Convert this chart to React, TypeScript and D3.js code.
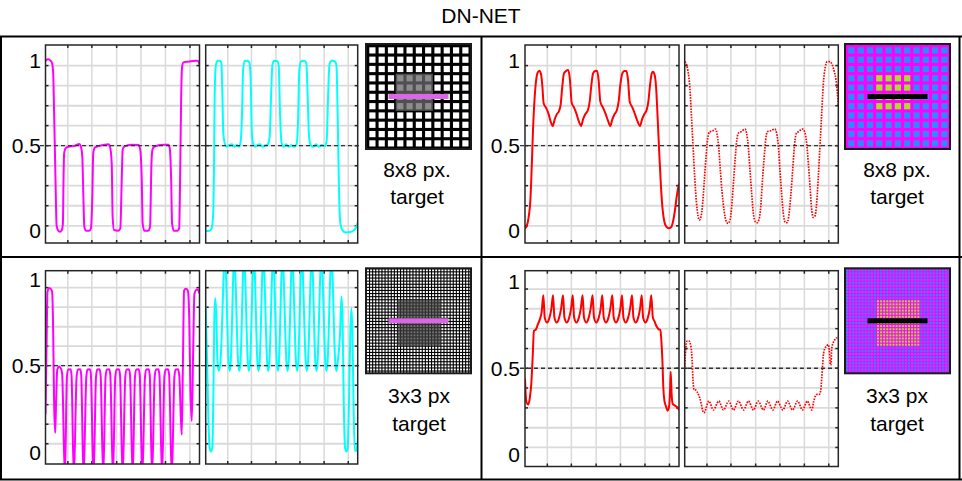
import React from 'react';
import * as d3 from 'd3';

type Pt = [number, number];

// x: percent of plot width, y: normalised intensity
const magentaTop: Pt[] = [
  [0, 1.0], [1.7, 1.008], [3.3, 1.0], [4.3, 0.985], [5.0, 0.925], [5.6, 0.69], [6.5, 0.3], [7.2, 0.033], [8.0, 0.004], [9.3, -0.006],
  [10.6, 0.004], [11.3, 0.043], [11.7, 0.3], [12.1, 0.455], [13.0, 0.484], [14.8, 0.494], [19.1, 0.5], [21.9, 0.51], [23.0, 0.494], [23.9, 0.435],
  [24.6, 0.2], [25.2, 0.024], [26.3, 0], [28.4, 0], [29.5, 0.014], [30.4, 0.2], [31.0, 0.455], [32.1, 0.49], [37.5, 0.504], [41.0, 0.508],
  [41.9, 0.494], [43.0, 0.396], [43.6, 0.08], [44.5, 0.004], [47.3, 0], [48.6, 0.014], [49.5, 0.3], [50.1, 0.475], [51.0, 0.494], [56.0, 0.506],
  [60.3, 0.504], [61.4, 0.484], [62.5, 0.3], [63.1, 0.043], [64.2, 0], [66.8, 0], [67.9, 0.024], [68.8, 0.396], [69.4, 0.475], [70.5, 0.494],
  [76.6, 0.506], [79.8, 0.506], [80.7, 0.484], [81.6, 0.3], [82.2, 0.043], [83.3, 0], [85.7, 0], [86.8, 0.014], [87.4, 0.3], [88.1, 0.788],
  [88.7, 0.965], [89.6, 0.99], [92.8, 0.994], [97.2, 1.0], [98.7, 1.0], [99.8, 0.985], [100, 0.975],
];

const cyanTop: Pt[] = [
  [0, -0.002], [2.4, 0], [3.9, 0.014], [4.8, 0.08], [5.5, 0.4], [5.9, 0.79], [6.6, 0.965], [7.7, 1.0], [9.4, 1.0], [10.3, 0.985],
  [11.0, 0.79], [11.6, 0.57], [12.5, 0.514], [13.8, 0.494], [15.6, 0.504], [17.3, 0.508], [18.9, 0.494], [20.4, 0.504], [21.9, 0.494], [23.0, 0.524],
  [23.9, 0.69], [24.6, 0.945], [25.7, 0.998], [27.4, 1.0], [28.7, 0.99], [29.6, 0.886], [30.3, 0.592], [31.1, 0.514], [32.5, 0.494], [34.0, 0.504],
  [35.7, 0.508], [37.5, 0.494], [39.3, 0.502], [41.0, 0.51], [42.1, 0.553], [43.0, 0.788], [43.9, 0.975], [45.0, 1.0], [46.9, 0.998], [48.0, 0.975],
  [48.9, 0.69], [49.8, 0.524], [51.1, 0.494], [52.9, 0.508], [54.6, 0.494], [56.4, 0.502], [58.3, 0.494], [59.9, 0.514], [60.7, 0.63], [61.6, 0.945],
  [62.9, 0.998], [64.9, 1.0], [66.2, 0.985], [67.1, 0.788], [68.0, 0.553], [69.1, 0.504], [70.8, 0.494], [72.6, 0.508], [74.3, 0.494], [76.5, 0.504],
  [78.5, 0.498], [79.6, 0.533], [80.5, 0.788], [81.4, 0.975], [82.7, 1.0], [84.6, 0.998], [86.0, 0.975], [86.8, 0.69], [87.7, 0.24], [88.6, 0.043],
  [89.9, 0.004], [92.1, -0.01], [95.0, -0.008], [97.6, 0.004], [98.9, 0.02], [100, 0.047],
];

const redTop: Pt[] = [
  [0, 0.014], [1.1, 0.027], [2.4, 0.082], [3.5, 0.18], [4.3, 0.357], [5.2, 0.592], [6.3, 0.788], [7.4, 0.896], [8.2, 0.929], [9.3, 0.941],
  [10.4, 0.922], [11.3, 0.847], [12.1, 0.749], [13.6, 0.724], [15.2, 0.69], [16.7, 0.641], [18.0, 0.616], [19.3, 0.655], [20.6, 0.684], [22.1, 0.704],
  [23.2, 0.745], [24.2, 0.847], [25.3, 0.925], [26.6, 0.939], [28.1, 0.945], [29.2, 0.886], [30.3, 0.753], [31.8, 0.725], [33.5, 0.686], [34.8, 0.647],
  [36.4, 0.616], [37.7, 0.655], [39.2, 0.686], [40.9, 0.71], [42.0, 0.759], [43.1, 0.857], [44.2, 0.925], [45.5, 0.939], [46.8, 0.941], [47.8, 0.886],
  [48.9, 0.759], [50.6, 0.725], [52.4, 0.686], [53.9, 0.647], [55.4, 0.616], [56.7, 0.655], [58.2, 0.686], [59.7, 0.71], [60.8, 0.759], [61.9, 0.857],
  [63.2, 0.925], [64.5, 0.939], [65.8, 0.939], [66.9, 0.886], [68.0, 0.759], [69.7, 0.725], [71.4, 0.686], [72.9, 0.647], [74.7, 0.616], [76.0, 0.655],
  [77.5, 0.686], [79.0, 0.71], [80.1, 0.759], [81.2, 0.857], [82.3, 0.925], [83.1, 0.935], [84.2, 0.916], [85.1, 0.847], [86.1, 0.671], [87.2, 0.455],
  [88.3, 0.259], [89.4, 0.122], [90.5, 0.053], [91.8, 0.024], [93.3, 0.014], [94.8, 0.02], [96.1, 0.053], [97.4, 0.122], [98.5, 0.2], [100, 0.278],
];

const redDotTop: Pt[] = [
  [0, 0.994], [1.1, 0.978], [2.2, 0.935], [3.3, 0.847], [4.3, 0.69], [5.4, 0.504], [6.5, 0.318], [7.6, 0.171], [8.7, 0.086], [9.5, 0.063],
  [10.6, 0.082], [11.7, 0.161], [12.8, 0.298], [13.9, 0.435], [15.0, 0.543], [16.3, 0.582], [18.0, 0.586], [20.0, 0.598], [21.0, 0.573], [22.1, 0.494],
  [23.2, 0.357], [24.3, 0.229], [25.6, 0.122], [26.9, 0.059], [28.2, 0.043], [29.5, 0.063], [30.6, 0.141], [31.7, 0.278], [32.8, 0.416], [33.8, 0.524],
  [34.9, 0.573], [36.7, 0.582], [39.3, 0.598], [40.3, 0.573], [41.4, 0.494], [42.5, 0.357], [43.6, 0.22], [44.7, 0.102], [46.0, 0.053], [47.1, 0.047],
  [48.4, 0.067], [49.5, 0.141], [50.5, 0.278], [51.6, 0.416], [52.7, 0.533], [53.8, 0.582], [56.0, 0.588], [58.6, 0.598], [59.9, 0.573], [61.0, 0.494],
  [62.0, 0.357], [63.1, 0.22], [64.2, 0.102], [65.5, 0.049], [66.6, 0.047], [67.7, 0.082], [69.0, 0.2], [70.3, 0.357], [71.4, 0.494], [72.5, 0.569],
  [74.0, 0.582], [76.8, 0.598], [78.1, 0.582], [79.4, 0.514], [80.5, 0.396], [81.6, 0.259], [82.6, 0.131], [83.7, 0.078], [84.8, 0.086], [85.9, 0.161],
  [87.0, 0.318], [88.1, 0.504], [89.2, 0.69], [90.2, 0.857], [91.5, 0.961], [92.8, 0.994], [94.6, 0.994], [96.1, 0.975], [97.4, 0.935], [98.5, 0.886],
  [99.3, 0.818], [100, 0.733],
];

const magentaBottom: Pt[] = [
  [0, 0.22], [0.65, 0.592], [1.3, 0.925], [2.2, 0.949], [3.3, 0.945], [4.3, 0.929], [5.0, 0.69], [5.6, 0.278], [6.3, 0.112], [6.9, 0.298],
  [7.6, 0.475], [8.7, 0.494], [10.0, 0.484], [10.8, 0.455], [12.6, -0.15],
  [13.9, 0.435], [14.8, 0.478], [16.3, 0.48], [16.9, 0.445], [18.4, -0.15],
  [20.2, 0.435], [21.1, 0.478], [22.6, 0.48], [23.2, 0.445], [24.7, -0.15],
  [26.5, 0.435], [27.3, 0.478], [28.9, 0.48], [29.5, 0.445], [31.2, -0.15],
  [32.8, 0.435], [33.6, 0.478], [35.1, 0.48], [35.8, 0.445], [37.5, -0.15],
  [39.0, 0.435], [39.9, 0.478], [41.4, 0.48], [42.1, 0.445], [43.8, -0.15],
  [45.3, 0.435], [46.2, 0.478], [47.7, 0.48], [48.4, 0.445], [50.1, -0.15],
  [51.8, 0.435], [52.7, 0.478], [54.2, 0.48], [54.9, 0.445], [56.6, -0.15],
  [58.1, 0.435], [59.0, 0.478], [60.5, 0.48], [61.2, 0.445], [62.9, -0.15],
  [64.6, 0.435], [65.5, 0.478], [67.0, 0.48], [67.7, 0.445], [69.2, -0.15],
  [70.9, 0.435], [71.8, 0.478], [73.3, 0.48], [74.0, 0.445], [75.7, -0.15],
  [77.2, 0.435], [78.1, 0.478], [79.6, 0.48], [80.3, 0.445], [82.0, -0.15],
  [83.7, 0.435], [84.6, 0.478], [86.1, 0.48], [86.9, 0.44], [87.9, 0.2], [88.5, 0.102], [89.2, 0.494], [90.0, 0.935], [91.1, 0.945], [92.4, 0.935],
  [93.3, 0.788], [94.1, 0.357], [95.0, 0.18], [95.9, 0.592], [96.7, 0.916], [98.3, 0.941], [99.3, 0.935], [100, 0.916],
];

const cyanBottom: Pt[] = [
  [0, 0.847], [0.9, 0.533], [1.75, 0.2], [2.6, 0.024], [3.5, 0.004], [4.4, 0.033], [5.0, 0.298], [5.7, 0.788], [6.3, 0.89], [7.0, 0.788],
  [7.7, 0.533], [8.5, 0.471], [9.6, 0.51], [12.7, 1.13],
  [15.1, 0.51], [15.8, 0.47], [16.4, 0.51], [18.8, 1.13],
  [21.4, 0.51], [22.1, 0.47], [22.8, 0.51], [25.2, 1.13],
  [27.8, 0.51], [28.4, 0.47], [29.1, 0.51], [31.7, 1.13],
  [34.1, 0.51], [34.8, 0.47], [35.4, 0.51], [37.9, 1.13],
  [40.5, 0.51], [41.1, 0.47], [41.8, 0.51], [44.4, 1.13],
  [46.8, 0.51], [47.5, 0.47], [48.1, 0.51], [50.5, 1.13],
  [53.2, 0.51], [53.8, 0.47], [54.5, 0.51], [56.9, 1.13],
  [59.5, 0.51], [60.2, 0.47], [60.8, 0.51], [63.2, 1.13],
  [65.9, 0.51], [66.5, 0.47], [67.2, 0.51], [69.8, 1.13],
  [72.2, 0.51], [72.9, 0.47], [73.5, 0.51], [76.1, 1.13],
  [78.8, 0.51], [79.4, 0.47], [80.1, 0.51], [82.7, 1.13],
  [85.3, 0.51], [86.0, 0.47], [86.7, 0.51], [88.4, 0.69], [89.3, 0.9], [90.0, 0.788], [90.8, 0.298], [91.7, 0.024], [92.6, 0.004], [93.4, 0.024],
  [94.3, 0.298], [95.2, 0.71], [95.8, 0.831], [96.5, 0.71], [97.4, 0.2], [98.2, 0.008], [99.1, 0.008], [100, 0.063],
];

const redBottom: Pt[] = [
  [0, 0.441], [0.9, 0.304], [2.2, 0.29], [3.2, 0.333], [4.1, 0.412], [5.0, 0.569], [5.8, 0.716], [7.1, 0.725], [8.4, 0.755], [9.7, 0.784],
  [10.8, 0.824], [11.9, 0.922],
  [12.8, 0.794], [14.3, 0.765], [15.8, 0.79], [17.1, 0.843], [18.2, 0.922],
  [19.1, 0.794], [20.6, 0.765], [22.1, 0.79], [23.4, 0.843], [24.7, 0.922],
  [25.6, 0.794], [27.1, 0.765], [28.6, 0.79], [29.9, 0.843], [31.0, 0.922],
  [31.9, 0.794], [33.4, 0.765], [34.9, 0.79], [36.2, 0.843], [37.4, 0.922],
  [38.3, 0.794], [39.8, 0.765], [41.3, 0.79], [42.6, 0.843], [43.9, 0.922],
  [44.8, 0.794], [46.3, 0.765], [47.8, 0.79], [49.1, 0.843], [50.2, 0.922],
  [51.1, 0.794], [52.6, 0.765], [54.1, 0.79], [55.4, 0.843], [56.7, 0.922],
  [57.6, 0.794], [59.1, 0.765], [60.6, 0.79], [61.9, 0.843], [63.0, 0.922],
  [63.9, 0.794], [65.4, 0.765], [66.9, 0.79], [68.2, 0.843], [69.5, 0.922],
  [70.4, 0.794], [71.9, 0.765], [73.4, 0.79], [74.7, 0.843], [75.8, 0.922],
  [76.7, 0.794], [78.2, 0.765], [79.7, 0.79], [81.0, 0.843], [82.0, 0.922],
  [83.0, 0.794], [84.2, 0.769], [85.5, 0.741], [86.8, 0.725], [87.9, 0.722], [88.5, 0.667], [89.2, 0.549], [89.8, 0.392], [90.5, 0.314], [91.6, 0.278],
  [92.6, 0.255], [93.5, 0.275], [94.2, 0.373], [94.6, 0.48], [95.2, 0.353], [95.9, 0.294], [97.4, 0.284], [98.9, 0.275], [100, 0.259],
];

const redDotBottom: Pt[] = [
  [0, 0.506], [0.65, 0.608], [1.5, 0.657], [2.8, 0.657], [4.1, 0.624], [4.8, 0.549], [5.4, 0.431], [6.1, 0.376], [7.4, 0.373], [8.5, 0.357],
  [9.6, 0.333], [10.7, 0.298], [11.7, 0.255], [12.6, 0.243], [15.7, 0.31], [18.7, 0.259], [22.2, 0.31], [25.2, 0.259], [28.7, 0.31], [31.7, 0.259],
  [35.0, 0.31], [38.3, 0.259], [41.5, 0.31], [44.8, 0.259], [47.8, 0.31], [51.3, 0.259], [54.1, 0.31], [57.4, 0.259], [60.4, 0.31], [63.9, 0.259],
  [67.0, 0.31], [70.2, 0.259], [73.5, 0.31], [76.7, 0.259], [79.8, 0.31], [82.8, 0.259], [83.9, 0.304], [85.0, 0.337], [86.1, 0.349], [87.6, 0.349],
  [88.5, 0.369], [89.3, 0.451], [90.2, 0.569], [91.1, 0.612], [92.2, 0.627], [93.3, 0.637], [94.1, 0.608], [94.8, 0.52], [95.2, 0.52], [95.7, 0.612],
  [96.5, 0.643], [97.6, 0.663], [98.7, 0.675], [100, 0.675],
];

const xGrid = [14.5, 30.1, 46.2, 62, 77.9, 93.8];
const gridTop = [0.029, 0.147, 0.265, 0.382, 0.5, 0.618, 0.735, 0.853, 0.971];
const gridBottomL = [0.049, 0.162, 0.275, 0.387, 0.5, 0.613, 0.725, 0.838, 0.951];
const gridBottomR = [0.042, 0.156, 0.271, 0.386, 0.5, 0.614, 0.729, 0.844, 0.958];
const yLabels = [0, 0.5, 1];
const yLabelText = ['0', '0.5', '1'];

const title = 'DN-NET';
const captionsTop = ['8x8 px.', 'target'];
const captionsBottom = ['3x3 px', 'target'];

const FONT = "'Liberation Sans', Arial, Helvetica, sans-serif";

interface Row { y0: number; y1: number; lo: number; hi: number; grid: number[] }
const rowTop: Row = { y0: 45, y1: 243, lo: -0.072, hi: 1.092, grid: gridTop };
const rowBL: Row = { y0: 270.7, y1: 464, lo: -0.068, hi: 1.049, grid: gridBottomL };
const rowBR: Row = { y0: 270.7, y1: 466.5, lo: -0.068, hi: 1.064, grid: gridBottomR };

interface PlotProps { id: string; x0: number; x1: number; row: Row; data: Pt[]; color: string; dotted?: boolean }

function Plot({ id, x0, x1, row, data, color, dotted }: PlotProps) {
  const x = d3.scaleLinear().domain([0, 100]).range([x0, x1]);
  const y = d3.scaleLinear().domain([row.lo, row.hi]).range([row.y1, row.y0]);
  const line = d3.line<Pt>().x(d => x(d[0])).y(d => y(d[1])).curve(d3.curveMonotoneX);
  const w = x1 - x0, h = row.y1 - row.y0;
  return (
    <g>
      <defs>
        <clipPath id={id}><rect x={x0} y={row.y0} width={w} height={h} /></clipPath>
      </defs>
      <rect x={x0} y={row.y0} width={w} height={h} fill="#fff" />
      {xGrid.map(g => (
        <line key={'vx' + g} x1={x(g)} x2={x(g)} y1={row.y0} y2={row.y1} stroke="#dadada" strokeWidth={1.5} />
      ))}
      {row.grid.map(g => (
        <line key={'hy' + g} x1={x0} x2={x1} y1={y(g)} y2={y(g)} stroke="#dadada" strokeWidth={1.8} />
      ))}
      {xGrid.map(g => (
        <g key={'tx' + g} stroke="#262626" strokeWidth={1.5}>
          <line x1={x(g)} x2={x(g)} y1={row.y0} y2={row.y0 + 3} />
          <line x1={x(g)} x2={x(g)} y1={row.y1} y2={row.y1 - 3} />
        </g>
      ))}
      {row.grid.map(g => (
        <g key={'ty' + g} stroke="#262626" strokeWidth={1.5}>
          <line x1={x0} x2={x0 + 3} y1={y(g)} y2={y(g)} />
          <line x1={x1} x2={x1 - 3} y1={y(g)} y2={y(g)} />
        </g>
      ))}
      <path d={line(data) || ''} fill="none" stroke={color} strokeWidth={dotted ? 1.7 : 2}
        strokeDasharray={dotted ? '1.6,1.2' : undefined} clipPath={`url(#${id})`} strokeLinejoin="round" />
      <rect x={x0} y={row.y0} width={w} height={h} fill="none" stroke="#262626" strokeWidth={1.5} />
    </g>
  );
}

interface ThumbProps {
  id: string; x: number; y: number; size: number; pitch: number; off: number; sq: number;
  bg: string; fg: string; reg: [number, number, number, number]; regBg: string; regFg: string; bar: string;
}

function Thumb({ id, x, y, size, pitch, off, sq, bg, fg, reg, regBg, regFg, bar }: ThumbProps) {
  const n = Math.ceil((size - off) / pitch);
  const idx = d3.range(n);
  const gap = pitch - sq;
  const [c0, c1, r0, r1] = reg;
  const inReg = (i: number, j: number) => i >= c0 && i <= c1 && j >= r0 && j <= r1;
  return (
    <g>
      <defs><clipPath id={id}><rect x={x} y={y} width={size} height={size} /></clipPath></defs>
      <g clipPath={`url(#${id})`}>
        <rect x={x} y={y} width={size} height={size} fill={bg} />
        <rect x={x + off + c0 * pitch - gap / 2} y={y + off + r0 * pitch - gap / 2}
          width={(c1 - c0 + 1) * pitch} height={(r1 - r0 + 1) * pitch} fill={regBg} />
        {idx.map(i => idx.map(j => (
          <rect key={i + '-' + j} x={x + off + i * pitch} y={y + off + j * pitch} width={sq} height={sq}
            fill={inReg(i, j) ? regFg : fg} />
        )))}
      </g>
      <rect x={x + size / 2 - 30} y={y + size / 2 - 2.5} width={60} height={5} fill={bar} />
      <rect x={x} y={y} width={size} height={size} fill="none" stroke="#1a1a1a" strokeWidth={2} />
    </g>
  );
}

function Caption({ x, y1, y2, lines }: { x: number; y1: number; y2: number; lines: string[] }) {
  return (
    <g fontFamily={FONT} fontSize={21} textAnchor="middle" fill="#000">
      <text x={x} y={y1}>{lines[0]}</text>
      <text x={x} y={y2}>{lines[1]}</text>
    </g>
  );
}

function YLabels({ xEnd, row }: { xEnd: number; row: Row }) {
  const y = d3.scaleLinear().domain([row.lo, row.hi]).range([row.y1, row.y0]);
  return (
    <g fontFamily={FONT} fontSize={21} textAnchor="end" fill="#000">
      {yLabels.map((v, i) => (
        <text key={v} x={xEnd} y={y(v)} dominantBaseline="central">{yLabelText[i]}</text>
      ))}
    </g>
  );
}

function RefLine({ xa, xb, row }: { xa: number; xb: number; row: Row }) {
  const y = d3.scaleLinear().domain([row.lo, row.hi]).range([row.y1, row.y0]);
  return <line x1={xa} x2={xb} y1={y(0.5)} y2={y(0.5)} stroke="#333" strokeWidth={1.3} strokeDasharray="4,3" />;
}

export default function App() {
  return (
    <svg width={962} height={481} style={{ position: 'absolute', left: 0, top: 0, background: '#fff' }}>
      <text x={481} y={23} fontFamily={FONT} fontSize={21} textAnchor="middle">{title}</text>

      <Plot id="pA" x0={45.5} x1={199.5} row={rowTop} data={magentaTop} color="#ff00ff" />
      <Plot id="pB" x0={205.7} x1={357.7} row={rowTop} data={cyanTop} color="#00ffff" />
      <Plot id="pC" x0={525} x1={679} row={rowTop} data={redTop} color="#ff0000" />
      <Plot id="pD" x0={684.7} x1={838.3} row={rowTop} data={redDotTop} color="#ff0000" dotted />
      <Plot id="pE" x0={45.5} x1={199.5} row={rowBL} data={magentaBottom} color="#ff00ff" />
      <Plot id="pF" x0={205.7} x1={357.7} row={rowBL} data={cyanBottom} color="#00ffff" />
      <Plot id="pG" x0={525} x1={679} row={rowBR} data={redBottom} color="#ff0000" />
      <Plot id="pH" x0={684.7} x1={838.3} row={rowBR} data={redDotBottom} color="#ff0000" dotted />

      <RefLine xa={40} xb={362} row={rowTop} />
      <RefLine xa={520} xb={841} row={rowTop} />
      <RefLine xa={40} xb={362} row={rowBL} />
      <RefLine xa={520} xb={841} row={rowBR} />

      <YLabels xEnd={41} row={rowTop} />
      <YLabels xEnd={520} row={rowTop} />
      <YLabels xEnd={41} row={rowBL} />
      <YLabels xEnd={520} row={rowBR} />

      <Thumb id="tA" x={366} y={44} size={105} pitch={9.3} off={3.3} sq={6.2} bg="#000" fg="#fff"
        reg={[3, 6, 3, 6]} regBg="#4f4f4f" regFg="#8c8c8c" bar="#da66e8" />
      <Thumb id="tB" x={845} y={44} size={105} pitch={9.3} off={3.3} sq={6.2} bg="#ff00ff" fg="#2a8cff"
        reg={[3, 6, 3, 6]} regBg="#ff00ff" regFg="#a6e22a" bar="#000" />
      <Thumb id="tC" x={366} y={268.3} size={105} pitch={3.1} off={1} sq={2} bg="#000" fg="#fff"
        reg={[10, 23, 10, 24]} regBg="#2e2e2e" regFg="#707070" bar="#da66e8" />
      <Thumb id="tD" x={845} y={268.3} size={105} pitch={3.1} off={1} sq={2} bg="#ff00ff" fg="#2a8cff"
        reg={[10, 23, 10, 24]} regBg="#ff00ff" regFg="#a6e22a" bar="#000" />

      <Caption x={417} y1={177} y2={204} lines={captionsTop} />
      <Caption x={897} y1={177} y2={204} lines={captionsTop} />
      <Caption x={419} y1={403} y2={431} lines={captionsBottom} />
      <Caption x={897} y1={403} y2={431} lines={captionsBottom} />

      <g stroke="#000" strokeWidth={2}>
        <line x1={0} x2={962} y1={36.5} y2={36.5} />
        <line x1={0} x2={962} y1={257} y2={257} />
        <line x1={0} x2={962} y1={479.5} y2={479.5} />
        <line x1={1} x2={1} y1={36.5} y2={479.5} />
        <line x1={481.5} x2={481.5} y1={36.5} y2={479.5} />
        <line x1={959.5} x2={959.5} y1={36.5} y2={479.5} />
      </g>
    </svg>
  );
}
